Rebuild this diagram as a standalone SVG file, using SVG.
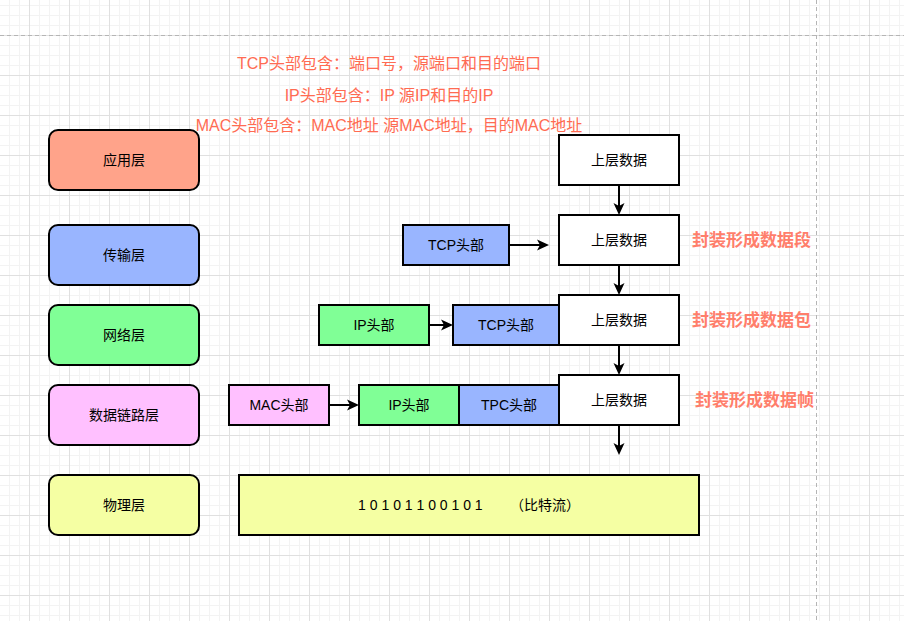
<svg xmlns="http://www.w3.org/2000/svg" width="904" height="621" viewBox="0 0 904 621">
<defs>
<style>
.box{stroke:#000;stroke-width:2}
.lbl{font-family:"Liberation Sans","Noto Sans CJK SC",sans-serif;font-size:14px;fill:#000;text-anchor:middle}
.note{font-family:"Liberation Sans","Noto Sans CJK SC",sans-serif;font-size:16px;fill:#FF6B52;text-anchor:middle}
.enc{font-family:"Liberation Sans","Noto Sans CJK SC",sans-serif;font-size:17px;font-weight:bold;fill:#FF7E6B}
.app{fill:#FFA38A}.tcp{fill:#99B5FF}.ip{fill:#80FF96}.mac{fill:#FFC0FF}.phy{fill:#F5FFA3}.wht{fill:#FFFFFF}
.conn line{stroke:#000;stroke-width:2;marker-end:url(#ah)}
</style>
<pattern id="grid" x="29" y="35" width="40" height="40" patternUnits="userSpaceOnUse">
<path d="M10.5 0V40M20.5 0V40M30.5 0V40M0 10.5H40M0 20.5H40M0 30.5H40" stroke="#f3f3f3" stroke-width="1" fill="none"/>
<path d="M0.5 0V40M0 0.5H40" stroke="#e0e0e0" stroke-width="1" fill="none"/>
</pattern>
<marker id="ah" viewBox="0 0 12 12" refX="6" refY="6" markerWidth="12" markerHeight="12" markerUnits="userSpaceOnUse" orient="auto">
<path d="M0,0.5 L12,6 L0,11.5 L3,6 z" fill="#000"/>
</marker>
</defs>
<rect width="904" height="621" fill="#fff"/>
<rect width="904" height="621" fill="url(#grid)"/>
<line x1="0" y1="35.5" x2="904" y2="35.5" stroke="#b5b5b5" stroke-dasharray="4 3"/>
<line x1="816.5" y1="0" x2="816.5" y2="621" stroke="#b5b5b5" stroke-dasharray="4 3"/>

<text class="note" x="389" y="69">TCP头部包含：端口号，源端口和目的端口</text>
<text class="note" x="389" y="101">IP头部包含：IP 源IP和目的IP</text>
<text class="note" x="389" y="131">MAC头部包含：MAC地址 源MAC地址，目的MAC地址</text>

<g id="layer-app"><rect class="box app" x="49" y="130" width="150" height="60" rx="9"/><text class="lbl" x="124" y="165">应用层</text></g>
<g id="layer-transport"><rect class="box tcp" x="49" y="225" width="150" height="60" rx="9"/><text class="lbl" x="124" y="260">传输层</text></g>
<g id="layer-network"><rect class="box ip" x="49" y="305" width="150" height="60" rx="9"/><text class="lbl" x="124" y="340">网络层</text></g>
<g id="layer-link"><rect class="box mac" x="49" y="385" width="150" height="60" rx="9"/><text class="lbl" x="124" y="420">数据链路层</text></g>
<g id="layer-physical"><rect class="box phy" x="49" y="475" width="150" height="60" rx="9"/><text class="lbl" x="124" y="510">物理层</text></g>

<g id="tcp-h1"><rect class="box tcp" x="403" y="225" width="106" height="40"/><text class="lbl" x="456" y="250">TCP头部</text></g>
<g id="ip-h1"><rect class="box ip" x="319" y="305" width="110" height="40"/><text class="lbl" x="374" y="330">IP头部</text></g>
<g id="tcp-h2"><rect class="box tcp" x="453" y="305" width="106" height="40"/><text class="lbl" x="506" y="330">TCP头部</text></g>
<g id="mac-h"><rect class="box mac" x="229" y="385" width="100" height="40"/><text class="lbl" x="279" y="410">MAC头部</text></g>
<g id="ip-h2"><rect class="box ip" x="359" y="385" width="100" height="40"/><text class="lbl" x="409" y="410">IP头部</text></g>
<g id="tpc-h"><rect class="box tcp" x="459" y="385" width="100" height="40"/><text class="lbl" x="509" y="410">TPC头部</text></g>

<g id="data1"><rect class="box wht" x="559" y="135" width="120" height="50"/><text class="lbl" x="619" y="165">上层数据</text></g>
<g id="data2"><rect class="box wht" x="559" y="215" width="120" height="50"/><text class="lbl" x="619" y="245">上层数据</text></g>
<g id="data3"><rect class="box wht" x="559" y="295" width="120" height="50"/><text class="lbl" x="619" y="325">上层数据</text></g>
<g id="data4"><rect class="box wht" x="559" y="375" width="120" height="50"/><text class="lbl" x="619" y="405">上层数据</text></g>

<g id="bits"><rect class="box phy" x="239" y="475" width="460" height="60"/><text class="lbl" x="469" y="510" xml:space="preserve">1 0 1 0 1 1 0 0 1 0 1       （比特流）</text></g>

<text class="enc" x="692" y="246">封装形成数据段</text>
<text class="enc" x="692" y="326">封装形成数据包</text>
<text class="enc" x="695" y="406">封装形成数据帧</text>

<g id="connectors" class="conn">
<line x1="619" y1="185" x2="619" y2="209"/>
<line x1="619" y1="265" x2="619" y2="289"/>
<line x1="619" y1="345" x2="619" y2="369"/>
<line x1="619" y1="425" x2="619" y2="449"/>
<line x1="509" y1="245" x2="543" y2="245"/>
<line x1="429" y1="325" x2="447" y2="325"/>
<line x1="329" y1="405" x2="353" y2="405"/>
</g>
</svg>
